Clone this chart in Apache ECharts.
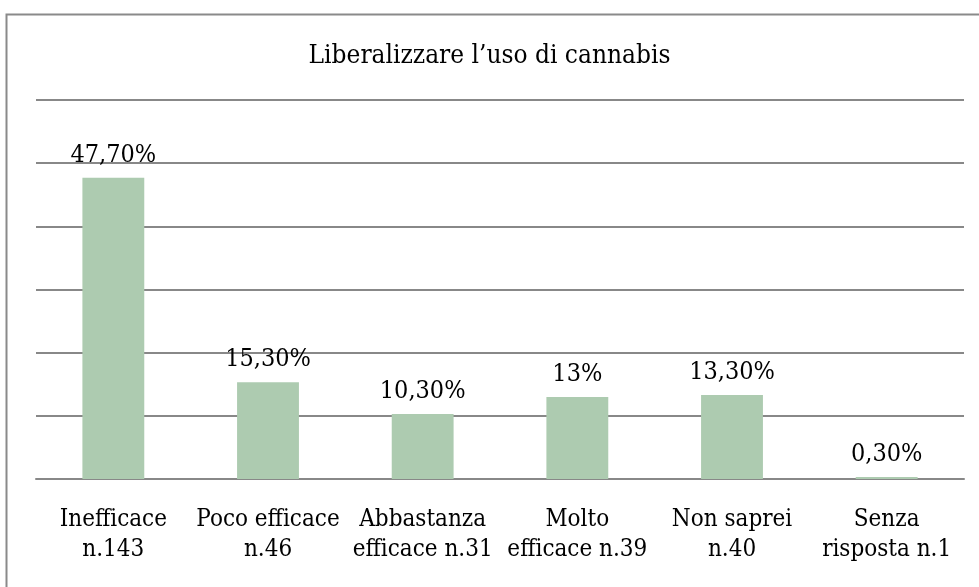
<!DOCTYPE html>
<html>
<head>
<meta charset="utf-8">
<script src="https://cdn.jsdelivr.net/npm/echarts@6/dist/echarts.min.js"></script>
<style>
  html, body { margin: 0; padding: 0; background: #fff; }
  #chart { width: 979px; height: 587px; }
</style>
</head>
<body>
<div id="chart"></div>
<script>
const categories = [
  'Inefficace\nn.143',
  'Poco efficace\nn.46',
  'Abbastanza\nefficace n.31',
  'Molto\nefficace n.39',
  'Non saprei\nn.40',
  'Senza\nrisposta n.1',
]
const values = [47.7, 15.3, 10.3, 13, 13.3, 0.3]

const font = '"DejaVu Serif Condensed", "DejaVu Serif", serif'

function pct(v) {
  // 47.7 -> "47,70%", 13 -> "13%"
  if (v === Math.round(v)) return v + '%'
  return v.toFixed(2).replace('.', ',') + '%'
}

const chart = echarts.init(document.getElementById('chart'))
chart.setOption({
  animation: false,
  title: {
    text: 'Liberalizzare l\u2019uso di cannabis',
    left: 'center',
    top: 38,
    textStyle: {
      fontFamily: font,
      fontWeight: 'normal',
      fontSize: 26,
      color: '#000',
    },
  },
  graphic: [
    {
      // chart frame, only top and left edges are visible
      type: 'rect',
      shape: { x: 6.5, y: 14.5, width: 1000, height: 600 },
      style: { fill: 'none', stroke: '#8a8a8a', lineWidth: 2 },
      silent: true,
    },
  ],
  grid: {
    left: 36,
    right: 15,
    top: 100,
    bottom: 108,
  },
  xAxis: {
    type: 'category',
    data: categories,
    axisTick: { show: false },
    axisLine: { lineStyle: { color: '#888', width: 2 } },
    axisLabel: {
      interval: 0,
      margin: 26,
      fontFamily: font,
      fontSize: 24,
      lineHeight: 30,
      color: '#000',
    },
  },
  yAxis: {
    type: 'value',
    min: 0,
    max: 60,
    interval: 10,
    axisLabel: { show: false },
    axisLine: { show: false },
    axisTick: { show: false },
    splitLine: { lineStyle: { color: '#888', width: 2 } },
  },
  series: [
    {
      type: 'bar',
      data: values,
      barWidth: '40%',
      itemStyle: { color: '#adcbb0' },
      label: {
        show: true,
        position: 'top',
        distance: 10,
        formatter: (p) => pct(p.value),
        fontFamily: font,
        fontSize: 25,
        color: '#000',
      },
    },
  ],
})
</script>
</body>
</html>
